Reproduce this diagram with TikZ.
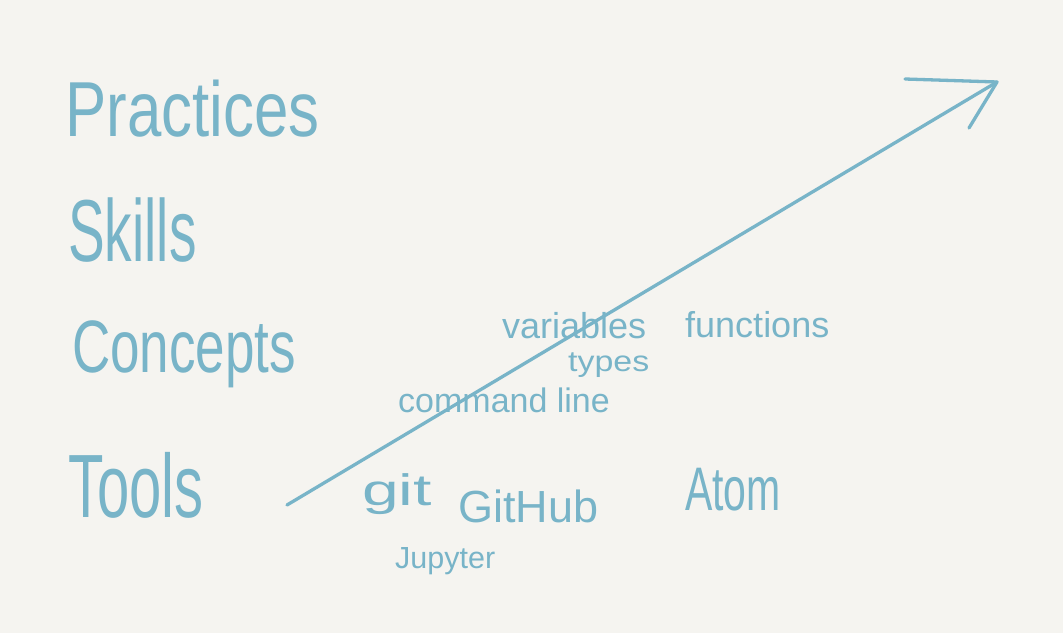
\documentclass[tikz,border=0pt]{standalone}
\usepackage{fontspec}
\setmainfont{Liberation Sans}
\usepackage{graphicx}
\definecolor{paper}{HTML}{F5F4F0}
\definecolor{ink}{HTML}{78B4C8}
\begin{document}
\begin{tikzpicture}[x=1pt,y=1pt,
  hand/.style={text=ink, inner sep=0pt, anchor=base west},
  stroke/.style={draw=ink, line width=3.3pt, line cap=round, line join=round}]
\fill[paper] (0,0) rectangle (1063,633);
\useasboundingbox (0,0) rectangle (1063,633);
% level labels
\node[hand, font=\fontsize{60}{60}\selectfont] (practices) at (65,496) {\scalebox{1.03}[1.3]{Practices}};
\node[hand, font=\fontsize{55}{55}\selectfont] (skills) at (68,371) {\scalebox{1}[1.6]{Skills}};
\node[hand, font=\fontsize{53}{53}\selectfont] (concepts) at (72,261) {\scalebox{1}[1.4]{Concepts}};
\node[hand, font=\fontsize{58}{58}\selectfont] (tools) at (68,116) {\scalebox{1}[1.55]{Tools}};
% items
\node[hand, font=\fontsize{36}{36}\selectfont] (variables) at (502,295) {variables};
\node[hand, font=\fontsize{36}{36}\selectfont] (functions) at (685,296) {functions};
\node[hand, font=\fontsize{29}{29}\selectfont] (types) at (568,262) {\scalebox{1.17}[1]{types}};
\node[hand, font=\fontsize{34}{34}\selectfont] (cmd) at (398,221) {command line};
\node[hand, font=\fontsize{40}{40}\selectfont] (git) at (362,128) {\scalebox{1.65}[1.1]{git}};
\node[hand, font=\fontsize{45}{45}\selectfont] (github) at (458,111) {GitHub};
\node[hand, font=\fontsize{41}{41}\selectfont] (atom) at (685,123) {\scalebox{1}[1.5]{Atom}};
\node[hand, font=\fontsize{30.5}{30.5}\selectfont] (jupyter) at (395,65) {Jupyter};
% arrow
\coordinate (s) at (287,128);
\coordinate (t) at (997,551);
\coordinate (b1) at (905,554);
\coordinate (b2) at (969,505);
\draw[stroke] (s) -- (t);
\draw[stroke] (b1) -- (t) -- (b2);
\end{tikzpicture}
\end{document}
